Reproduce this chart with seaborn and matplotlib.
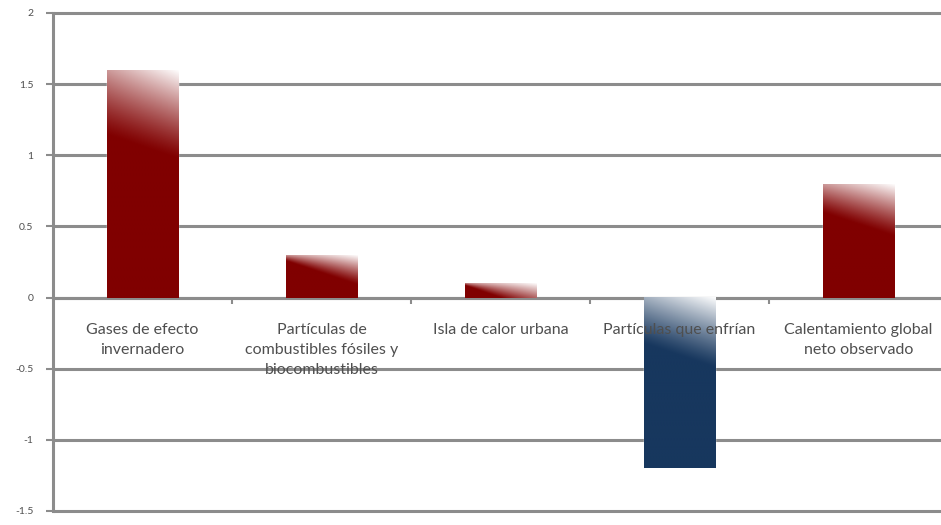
import numpy as np
import pandas as pd
import matplotlib
matplotlib.use("Agg")
import matplotlib.pyplot as plt
import seaborn as sns

# Contributions to observed warming (°C)
categories = [
    "Gases de efecto\ninvernadero",
    "Partículas de\ncombustibles fósiles y\nbiocombustibles",
    "Isla de calor urbana",
    "Partículas que enfrían",
    "Calentamiento global\nneto observado",
]
values = [1.6, 0.3, 0.1, -1.2, 0.8]
bar_colors = ["#800000", "#800000", "#800000", "#17375e", "#800000"]
y_ticks = [2, 1.5, 1, 0.5, 0, -0.5, -1, -1.5]
y_tick_labels = ["2", "1.5", "1", "0.5", "0", "-0.5", "-1", "-1.5"]

GRID = "#8c8c8c"
TEXT = "#4f4f4f"

sns.set_theme(style="white")
plt.rcParams["font.family"] = ["Lato", "DejaVu Sans"]

fig = plt.figure(figsize=(9.41, 5.25), dpi=100)
ax = fig.add_axes([53 / 941, 14 / 525, 895 / 941, 498 / 525])

df = pd.DataFrame({"cat": categories, "val": values})
sns.barplot(data=df, x="cat", y="val", hue="cat", palette=bar_colors,
            dodge=False, width=0.4, saturation=1, legend=False, ax=ax,
            zorder=2)

ymin, ymax = -1.5, 2
ax.set_ylim(ymin, ymax)
ax.set_xlim(-0.5, 4.5)

# Glossy gradient on the upper end of each bar
px_per_unit = ax.bbox.height / (ymax - ymin)
for patch in list(ax.patches):
    x0, w = patch.get_x(), patch.get_width()
    y, h = patch.get_y(), patch.get_height()
    upper, lower = max(y, y + h), min(y, y + h)
    H = (upper - lower) * px_per_unit
    base = np.array(matplotlib.colors.to_rgb(patch.get_facecolor()))
    nrows = max(int(H * 2), 4)
    ncols = 120
    d = (np.arange(nrows) + 0.5) / nrows * H
    u = (np.arange(ncols) + 0.5) / ncols
    L = max(0.0, 0.32 * H - 10) + 24 * u + 2
    light = np.clip(1 - d[:, None] / L[None, :], 0, 1) ** 1.2 * (0.6 + 0.4 * u)[None, :]
    img = base[None, None, :] * (1 - light[..., None]) + light[..., None]
    ax.imshow(img, extent=(x0, x0 + w, lower, upper), origin="upper",
              aspect="auto", zorder=3, interpolation="bilinear")

ax.set_xlim(-0.5, 4.5)
ax.set_ylim(ymin, ymax)

# Horizontal gridlines and left axis
ax.set_yticks(y_ticks)
ax.set_yticklabels(y_tick_labels, fontsize=7.5, color=TEXT)
ax.yaxis.grid(True, color=GRID, linewidth=2.2)
for gl in ax.get_ygridlines():
    gl.set_clip_on(False)
ax.set_axisbelow(True)
ax.tick_params(axis="y", left=True, length=5, width=1.5, color=GRID,
               direction="out", pad=9)

for side in ["top", "right"]:
    ax.spines[side].set_visible(False)
ax.spines["left"].set_color(GRID)
ax.spines["left"].set_linewidth(2.2)
ax.spines["bottom"].set_position(("data", 0))
ax.spines["bottom"].set_color(GRID)
ax.spines["bottom"].set_linewidth(2.2)

# Category separators on the zero line
ax.set_xticks([0.5, 1.5, 2.5, 3.5], minor=True)
ax.tick_params(axis="x", which="major", bottom=False, labelbottom=False)
ax.tick_params(axis="x", which="minor", bottom=True, length=4, width=1.5,
               color=GRID, direction="out")
ax.set_xlabel("")
ax.set_ylabel("")

for i, label in enumerate(categories):
    ax.annotate(label, xy=(i, 0), xytext=(0, -18), textcoords="offset points",
                ha="center", va="top", fontsize=11.5, color=TEXT,
                linespacing=1.58, zorder=5)

fig.savefig("out.png", dpi=100)
